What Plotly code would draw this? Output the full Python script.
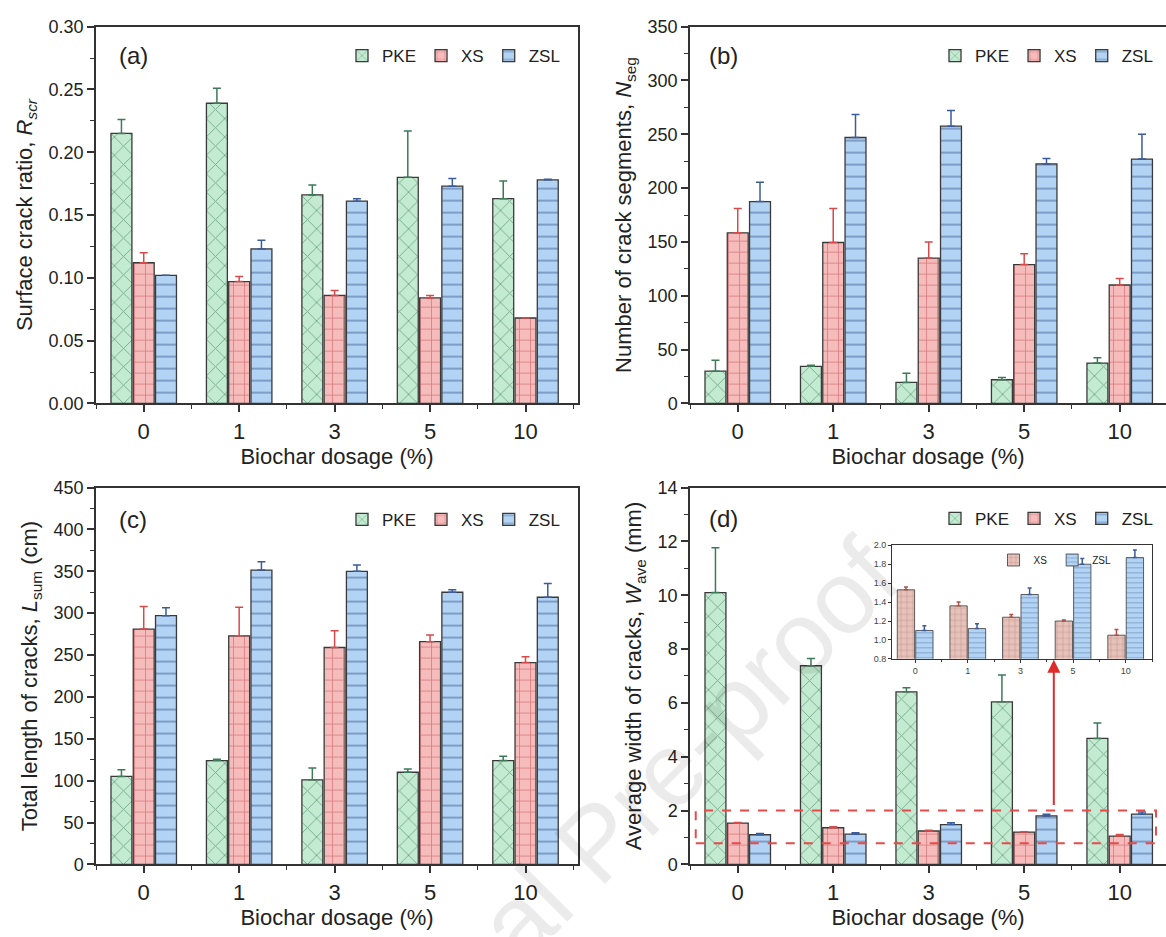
import plotly.graph_objects as go

# ---------------- data ----------------
dosage = ["0", "1", "3", "5", "10"]          # biochar dosage (%)
soils = ["PKE", "XS", "ZSL"]

# (a) surface crack ratio R_scr
ratio_pke = [0.215, 0.239, 0.166, 0.180, 0.163]
ratio_pke_sd = [0.011, 0.012, 0.008, 0.037, 0.014]
ratio_xs = [0.112, 0.097, 0.086, 0.084, 0.068]
ratio_xs_sd = [0.008, 0.004, 0.004, 0.002, 0.0]
ratio_zsl = [0.102, 0.123, 0.161, 0.173, 0.178]
ratio_zsl_sd = [0.0, 0.007, 0.002, 0.006, 0.0005]

# (b) number of crack segments N_seg
seg_pke = [30, 34.5, 19.5, 22, 37.5]
seg_pke_sd = [10, 1, 8.5, 2, 5]
seg_xs = [158.5, 149.5, 135, 129, 110]
seg_xs_sd = [22.5, 31.5, 15, 10, 6]
seg_zsl = [187.5, 247, 257.5, 222.5, 227]
seg_zsl_sd = [18, 21.5, 14.5, 5, 23]

# (c) total length of cracks L_sum (cm)
len_pke = [105, 124, 101, 110, 124]
len_pke_sd = [8, 1.5, 14, 4, 5]
len_xs = [281, 273, 259, 266, 241]
len_xs_sd = [27, 34, 20, 8, 7]
len_zsl = [297, 351.5, 350, 325, 319]
len_zsl_sd = [9.5, 10, 7.5, 3, 16.5]

# (d) average width of cracks W_ave (mm)
width_pke = [10.1, 7.38, 6.41, 6.04, 4.68]
width_pke_sd = [1.66, 0.27, 0.15, 1.0, 0.57]
width_xs = [1.53, 1.36, 1.24, 1.20, 1.05]
width_xs_sd = [0.03, 0.04, 0.03, 0.01, 0.06]
width_zsl = [1.10, 1.12, 1.48, 1.80, 1.87]
width_zsl_sd = [0.05, 0.05, 0.07, 0.06, 0.08]

# ---------------- styling ----------------
FONT = "Liberation Sans, Arial, sans-serif"
INK = "#333333"
STYLE = {
    "PKE": dict(fill="#c3ebd1", fg="#35684a", shape="x", size=13, err="#3d7a57"),
    "XS": dict(fill="#f6bcbc", fg="#b8393f", shape="+", size=11, err="#d84a4a"),
    "ZSL": dict(fill="#b2d3f3", fg="#33538a", shape="-", size=12, err="#3b5b9a"),
}
INSET_STYLE = {
    "XS": dict(fill="#e6c2ba", fg="#8a5446", shape="+", size=6, err="#b0504a"),
    "ZSL": dict(fill="#b2d3f3", fg="#2f5080", shape="-", size=5, err="#3b5b9a"),
}

W, H = 1166, 937
xpos = list(range(len(dosage)))

fig = go.Figure()


def add_bars(xa, ya, legend, name, vals, sd, st, lw=1.3, cap=4):
    fig.add_trace(go.Bar(
        x=xpos, y=vals, name=name, xaxis=xa, yaxis=ya, legend=legend,
        marker=dict(
            color=st["fill"],
            line=dict(color="#3a3a3a", width=lw),
            pattern=dict(shape=st["shape"], fgcolor=st["fg"], bgcolor=st["fill"],
                         size=st["size"], solidity=0.14),
        ),
        error_y=dict(type="data", array=sd, arrayminus=[0] * len(sd), symmetric=False,
                     color=st["err"], thickness=1.5, width=cap),
        hoverinfo="skip",
    ))


panels = [
    ("x", "y", "legend", (ratio_pke, ratio_pke_sd), (ratio_xs, ratio_xs_sd), (ratio_zsl, ratio_zsl_sd)),
    ("x2", "y2", "legend2", (seg_pke, seg_pke_sd), (seg_xs, seg_xs_sd), (seg_zsl, seg_zsl_sd)),
    ("x3", "y3", "legend3", (len_pke, len_pke_sd), (len_xs, len_xs_sd), (len_zsl, len_zsl_sd)),
    ("x4", "y4", "legend4", (width_pke, width_pke_sd), (width_xs, width_xs_sd), (width_zsl, width_zsl_sd)),
]
for xa, ya, lg, *series in panels:
    for name, (vals, sd) in zip(soils, series):
        add_bars(xa, ya, lg, name, vals, sd, STYLE[name])

# inset of panel (d): XS and ZSL only
add_bars("x5", "y5", "legend5", "XS", width_xs, width_xs_sd, INSET_STYLE["XS"], lw=0.8, cap=2)
add_bars("x5", "y5", "legend5", "ZSL", width_zsl, width_zsl_sd, INSET_STYLE["ZSL"], lw=0.8, cap=2)


# ---------------- axes ----------------
def px_x(p):
    return p / W


def px_y(p):
    return 1 - p / H


def x_axis(left, right, anchor, rng):
    return dict(
        domain=[px_x(left), px_x(right)], anchor=anchor, range=rng,
        tickmode="array", tickvals=xpos, ticktext=dosage,
        ticks="outside", ticklen=7, tickwidth=1.5, tickcolor=INK,
        minor=dict(tick0=0.5, dtick=1, ticks="outside", ticklen=4, tickwidth=1.2, tickcolor=INK),
        showline=True, linecolor=INK, linewidth=1.5, mirror=True,
        showgrid=False, zeroline=False,
        tickfont=dict(size=22, color="#222"),
        title=dict(text="Biochar dosage (%)", font=dict(size=22, color="#222"), standoff=6),
    )


def y_axis(top, bottom, anchor, rng, dtick, fmt, title, mirror=True):
    return dict(
        domain=[px_y(bottom), px_y(top)], anchor=anchor, range=rng,
        dtick=dtick, tick0=0, tickformat=fmt,
        ticks="outside", ticklen=7, tickwidth=1.5, tickcolor=INK,
        minor=dict(dtick=dtick / 2, ticks="outside", ticklen=4, tickwidth=1.2, tickcolor=INK),
        showline=True, linecolor=INK, linewidth=1.5, mirror=mirror,
        showgrid=False, zeroline=False,
        tickfont=dict(size=18, color="#222"),
        title=dict(text=title, font=dict(size=22, color="#222"), standoff=10),
    )


LEFT_L, LEFT_R = 96, 578
RIGHT_L, RIGHT_R = 690, 1166
TOP_T, TOP_B = 17, 402
BOT_T, BOT_B = 488, 873

layout = dict(
    xaxis=x_axis(LEFT_L, LEFT_R, "y", [-0.5, 4.55]),
    xaxis2=x_axis(RIGHT_L, RIGHT_R, "y2", [-0.5, 4.485]),
    xaxis3=x_axis(LEFT_L, LEFT_R, "y3", [-0.5, 4.55]),
    xaxis4=x_axis(RIGHT_L, RIGHT_R, "y4", [-0.5, 4.485]),
    yaxis=y_axis(TOP_T, TOP_B, "x", [0, 0.30], 0.05, ".2f",
                 "Surface crack ratio, <i>R</i><sub><i>scr</i></sub>"),
    yaxis2=y_axis(TOP_T, TOP_B, "x2", [0, 350], 50, "d",
                  "Number of crack segments, <i>N</i><sub>seg</sub>", mirror=False),
    yaxis3=y_axis(BOT_T, BOT_B, "x3", [0, 450], 50, "d",
                  "Total length of cracks, <i>L</i><sub>sum</sub> (cm)"),
    yaxis4=y_axis(BOT_T, BOT_B, "x4", [0, 14], 2, "d",
                  "Average width of cracks, <i>W</i><sub>ave</sub> (mm)", mirror=False),
    xaxis5=dict(
        domain=[px_x(892), px_x(1152)], anchor="y5", range=[-0.44, 4.5],
        tickmode="array", tickvals=xpos, ticktext=dosage,
        ticks="outside", ticklen=3, tickwidth=1, tickcolor=INK,
        minor=dict(tick0=0.5, dtick=1, ticks="outside", ticklen=2, tickwidth=1, tickcolor=INK),
        showline=True, linecolor=INK, linewidth=1, mirror=True,
        showgrid=False, zeroline=False, tickfont=dict(size=9, color="#444"),
    ),
    yaxis5=dict(
        domain=[px_y(663), px_y(547)], anchor="x5", range=[0.8, 2.0],
        dtick=0.2, tick0=0.8, tickformat=".1f",
        ticks="outside", ticklen=3, tickwidth=1, tickcolor=INK,
        showline=True, linecolor=INK, linewidth=1, mirror=True,
        showgrid=False, zeroline=False, tickfont=dict(size=9, color="#444"),
    ),
)


def legend_at(x, y, size=17, xanchor="right"):
    return dict(
        x=x, y=y, xanchor=xanchor, yanchor="middle", orientation="h",
        bgcolor="rgba(0,0,0,0)", font=dict(size=size, color="#222"),
        itemclick=False, itemdoubleclick=False, tracegroupgap=0,
    )


layout.update(
    legend=legend_at(px_x(565), px_y(47)),
    legend2=legend_at(px_x(1158), px_y(47)),
    legend3=legend_at(px_x(565), px_y(521)),
    legend4=legend_at(px_x(1158), px_y(520)),
    legend5=legend_at(px_x(1055), px_y(562), size=10, xanchor="center"),
)

# panel tags
tags = [("(a)", 117, 47), ("(b)", 707, 47), ("(c)", 117, 521), ("(d)", 707, 520)]
annotations = [
    dict(text=t, x=px_x(px), y=px_y(py), xref="paper", yref="paper",
         xanchor="left", yanchor="middle", showarrow=False,
         font=dict(size=24, color="#222"))
    for t, px, py in tags
]

# arrow pointing from the highlighted region to the inset
annotations.append(dict(
    x=3.31, y=7.6, ax=3.31, ay=2.15, xref="x4", yref="y4", axref="x4", ayref="y4",
    text="", showarrow=True, arrowhead=2, arrowsize=1.3, arrowwidth=2,
    arrowcolor="#e02b2b",
))

# faint diagonal watermark
annotations.append(dict(
    text="Journal Pre-proof", x=px_x(596), y=px_y(850), xref="paper", yref="paper",
    xanchor="center", yanchor="middle",
    showarrow=False, textangle=-45,
    font=dict(size=104, color="rgba(0,0,0,0.08)", family=FONT),
))

shapes = [dict(
    type="rect", xref="x4", yref="y4", x0=-0.44, x1=4.38, y0=0.78, y1=2.0,
    line=dict(color="#e84a4a", width=2, dash="dash"), fillcolor="rgba(0,0,0,0)",
)]

fig.update_layout(
    **layout,
    annotations=annotations,
    shapes=shapes,
    barmode="group", bargap=0.3, bargroupgap=0.06,
    width=W, height=H, autosize=False,
    margin=dict(l=0, r=0, t=0, b=0),
    paper_bgcolor="white", plot_bgcolor="white",
    font=dict(family=FONT, color="#222"),
    showlegend=True,
)

fig.write_html("out.html")
